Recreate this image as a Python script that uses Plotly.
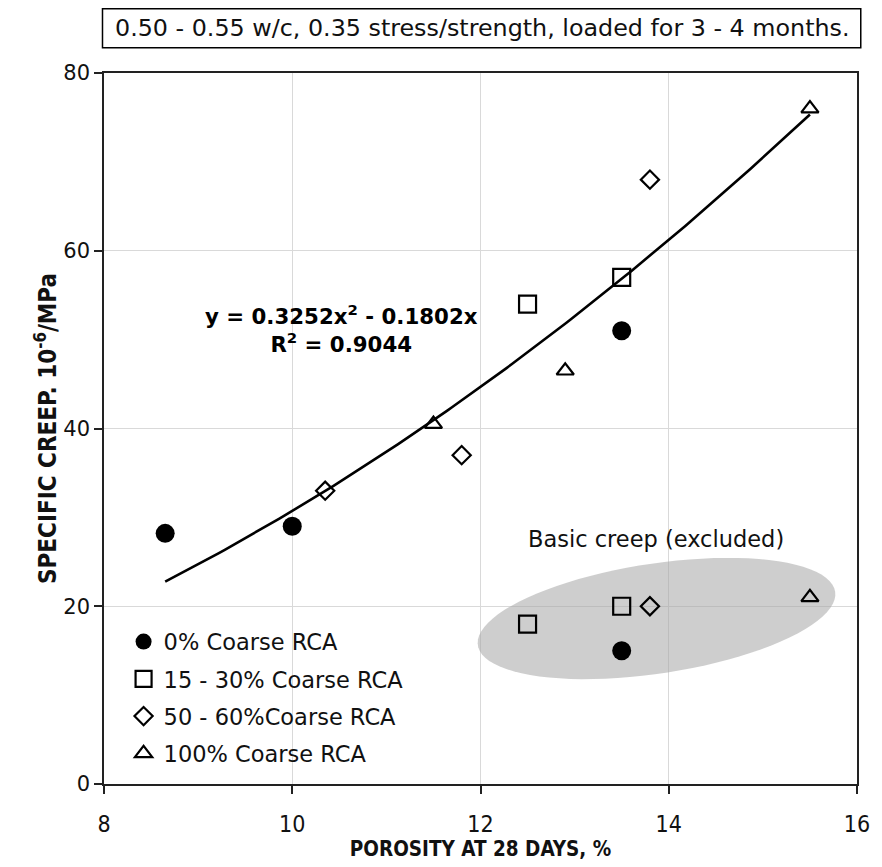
import numpy as np
import plotly.graph_objects as go

# Porosity (%) and specific creep (10^-6/MPa), drying + basic creep (fitted)
rca0_x = [8.65, 10.0, 13.5]
rca0_y = [28.2, 29.0, 51.0]
rca15_x = [12.5, 13.5]
rca15_y = [54.0, 57.0]
rca50_x = [10.35, 11.8, 13.8]
rca50_y = [33.0, 37.0, 68.0]
rca100_x = [11.5, 12.9, 15.5]
rca100_y = [40.5, 46.5, 76.0]

# Basic creep only (excluded from the fit)
basic0_x = [13.5]
basic0_y = [15.0]
basic15_x = [12.5, 13.5]
basic15_y = [18.0, 20.0]
basic50_x = [13.8]
basic50_y = [20.0]
basic100_x = [15.5]
basic100_y = [21.0]

# Quadratic trend through the origin
fit_a, fit_b = 0.3252, -0.1802
fit_r2 = 0.9044
fit_range = [8.65, 15.5]

x_ticks = [8, 10, 12, 14, 16]
y_ticks = [0, 20, 40, 60, 80]

# Layout geometry
W, H = 882, 867
M_L, M_R, M_T, M_B = 104, 15, 73, 83
X_RANGE = [8, 16]
Y_RANGE = [0, 80]
px_per_x = (W - M_L - M_R) / (X_RANGE[1] - X_RANGE[0])
px_per_y = (H - M_T - M_B) / (Y_RANGE[1] - Y_RANGE[0])

FONT = "DejaVu Sans"
FONT_C = "DejaVu Sans Condensed"
BLACK = "#000000"
TXT = "#111111"

fig = go.Figure()

series = [
    ("0% Coarse RCA", rca0_x, rca0_y, basic0_x, basic0_y,
     dict(symbol="circle", size=19, color=BLACK, line=dict(width=0))),
    ("15 - 30% Coarse RCA", rca15_x, rca15_y, basic15_x, basic15_y,
     dict(symbol="square-open", size=17, color=BLACK, line=dict(width=2.2))),
    ("50 - 60%Coarse RCA", rca50_x, rca50_y, basic50_x, basic50_y,
     dict(symbol="diamond-open", size=14, color=BLACK, line=dict(width=2.2))),
    ("100% Coarse RCA", rca100_x, rca100_y, basic100_x, basic100_y,
     dict(symbol="triangle-up-open", size=15, color=BLACK, line=dict(width=2.2))),
]

# Trend line
xf = np.linspace(fit_range[0], fit_range[1], 120)
yf = fit_a * xf ** 2 + fit_b * xf
fig.add_trace(go.Scatter(x=xf, y=yf, mode="lines", showlegend=False,
                         line=dict(color=BLACK, width=2.6), hoverinfo="skip"))

for name, x, y, bx, by, mk in series:
    fig.add_trace(go.Scatter(x=x, y=y, mode="markers", name=name,
                             legendgroup=name, marker=mk))
    fig.add_trace(go.Scatter(x=bx, y=by, mode="markers", name=name,
                             legendgroup=name, showlegend=False, marker=mk))

# Shaded ellipse around the basic-creep points
e_cx, e_cy = 13.87, 18.62
e_a, e_b, e_ang = 183.0, 55.0, np.deg2rad(8.4)
t = np.linspace(0, 2 * np.pi, 90)
dX = e_a * np.cos(t) * np.cos(e_ang) - e_b * np.sin(t) * np.sin(e_ang)
dY = e_a * np.cos(t) * np.sin(e_ang) + e_b * np.sin(t) * np.cos(e_ang)
ex = e_cx + dX / px_per_x
ey = e_cy + dY / px_per_y
path = "M " + " L ".join(f"{a:.4f},{b:.4f}" for a, b in zip(ex, ey)) + " Z"
fig.add_shape(type="path", path=path, xref="x", yref="y", layer="between",
              fillcolor="rgba(165,165,165,0.55)", line=dict(width=0))

# Header box above the plot
fig.add_shape(type="rect", xref="paper", yref="paper",
              x0=-0.002, x1=1.005, y0=1.0355, y1=1.0905,
              line=dict(color=BLACK, width=1.5), fillcolor="white")
fig.add_annotation(xref="paper", yref="paper", x=0.5026, y=1.063,
                   text="0.50 - 0.55 w/c, 0.35 stress/strength, loaded for 3 - 4 months.",
                   showarrow=False, font=dict(family=FONT, size=23.8, color=TXT),
                   xanchor="center", yanchor="middle")

fig.add_annotation(x=10.52, y=51.2, xref="x", yref="y",
                   text=f"y = {fit_a:.4f}x<sup>2</sup> - {abs(fit_b):.4f}x<br>R<sup>2</sup> = {fit_r2:.4f}",
                   showarrow=False, align="center",
                   font=dict(family=FONT, size=21.3, color=BLACK, weight="bold"))

fig.add_annotation(x=13.86, y=27.6, xref="x", yref="y",
                   text="Basic creep (excluded)", showarrow=False,
                   font=dict(family=FONT, size=22.5, color=TXT))

axis_common = dict(showline=True, linecolor="#222", linewidth=1.5, mirror=True,
                   showgrid=True, gridcolor="#d9d9d9", gridwidth=1,
                   ticks="outside", ticklen=8, tickwidth=1.5, tickcolor="#222",
                   zeroline=False)

fig.update_xaxes(range=X_RANGE, tickvals=x_ticks, ticktext=[str(v) for v in x_ticks],
                 tickfont=dict(family=FONT_C, size=23, color=TXT),
                 ticklabelstandoff=11,
                 title=dict(text="POROSITY AT 28 DAYS, %", standoff=0,
                            font=dict(family=FONT_C, size=20.5, color=TXT, weight="bold")),
                 **axis_common)
fig.update_yaxes(range=Y_RANGE, tickvals=y_ticks, ticktext=[str(v) for v in y_ticks],
                 tickfont=dict(family=FONT, size=21, color=TXT),
                 title=dict(text="SPECIFIC CREEP. 10<sup>-6</sup>/MPa", standoff=0,
                            font=dict(family=FONT_C, size=24, color=TXT, weight="bold")),
                 **axis_common)

fig.update_layout(
    width=W, height=H,
    margin=dict(l=M_L, r=M_R, t=M_T, b=M_B, pad=0),
    plot_bgcolor="white", paper_bgcolor="white",
    legend=dict(x=0.026, y=0.23, xanchor="left", yanchor="top",
                bgcolor="rgba(0,0,0,0)", tracegroupgap=5,
                font=dict(family=FONT, size=22.5, color=TXT)),
    showlegend=True,
)

fig.write_html("out.html")
